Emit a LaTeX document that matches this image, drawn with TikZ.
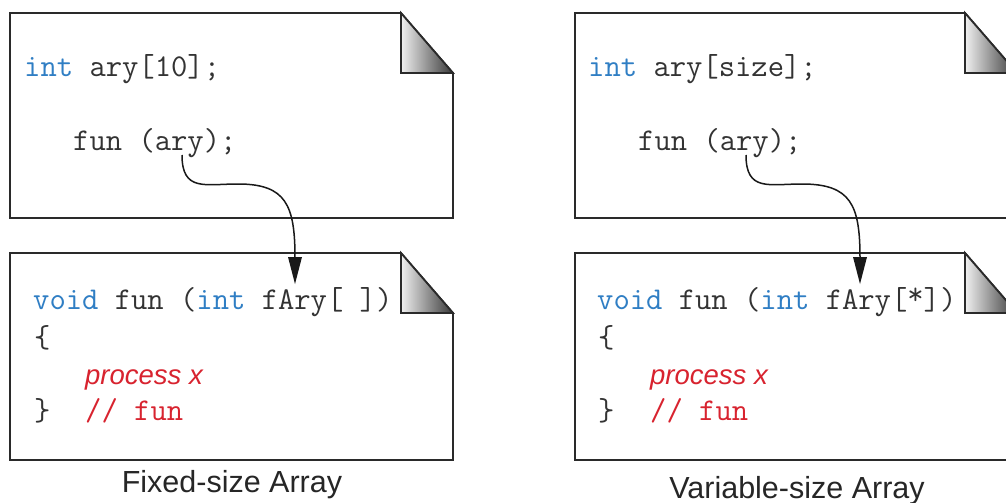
\documentclass[tikz,border=0pt]{standalone}
\usepackage{fontspec}
\setmainfont{Liberation Sans}
\definecolor{kwblue}{HTML}{2F7EC4}
\definecolor{cmred}{HTML}{D8232F}
\definecolor{codegray}{HTML}{333333}
\definecolor{linegray}{HTML}{2A2A2A}
\tikzset{
  page/.style={draw=linegray, line width=1.8pt, fill=white},
  foldtri/.style={draw=linegray, line width=1.8pt, left color=gray!12, right color=black!78, shading=axis},
  code/.style={anchor=base west, inner sep=0pt, font=\ttfamily\fontsize{31.7}{31.7}\selectfont, text=codegray},
  proc/.style={anchor=base west, inner sep=0pt, font=\fontsize{27.5}{27.5}\selectfont\itshape, text=cmred},
  caption/.style={anchor=base, inner sep=0pt, font=\fontsize{30.5}{30.5}\selectfont, text=black!85},
  link/.style={draw=black!90, line width=1.5pt},
  tip/.style={fill=black!90, draw=none}
}
\begin{document}
\begin{tikzpicture}[x=1pt,y=-1pt]
\useasboundingbox (0,0) rectangle (1006,503);
\clip (0,0) rectangle (1006,503);
% ---------- left top page
\draw[page] (10,13) -- (401,13) -- (453,73) -- (453,218) -- (10,218) -- cycle;
\draw[foldtri] (401,13) -- (401,73) -- (453,73) -- cycle;
% ---------- left bottom page
\draw[page] (10,253) -- (401,253) -- (453,313) -- (453,460) -- (10,460) -- cycle;
\draw[foldtri] (401,253) -- (401,313) -- (453,313) -- cycle;
% ---------- right top page
\draw[page] (575,13) -- (965,13) -- (1017,73) -- (1017,218) -- (575,218) -- cycle;
\draw[foldtri] (965,13) -- (965,73) -- (1017,73) -- cycle;
% ---------- right bottom page
\draw[page] (575,253) -- (965,253) -- (1017,313) -- (1017,460) -- (575,460) -- cycle;
\draw[foldtri] (965,253) -- (965,313) -- (1017,313) -- cycle;

% ---------- left texts
\node[code] (l1) at (24,77) {\textcolor{kwblue}{int} ary[10];};
\node[code] (l2) at (73,150) {fun (ary);};
\node[code] (l3) at (33,309) {\textcolor{kwblue}{void} fun (\textcolor{kwblue}{int} fAry[ ])};
\node[code] (l4) at (34,347) {\{};
\node[proc] (l5) at (85,384) {process x};
\node[code] (l6) at (34,420) {\}};
\node[code,text=cmred] (l7) at (85,420) {// fun};
\node[caption] (lcap) at (232,492) {Fixed-size Array};

% ---------- right texts
\node[code] (r1) at (588,77) {\textcolor{kwblue}{int} ary[size];};
\node[code] (r2) at (638,150) {fun (ary);};
\node[code] (r3) at (597,309) {\textcolor{kwblue}{void} fun (\textcolor{kwblue}{int} fAry[\raisebox{0.3ex}{*}])};
\node[code] (r4) at (598,347) {\{};
\node[proc] (r5) at (650,384) {process x};
\node[code] (r6) at (598,420) {\}};
\node[code,text=cmred] (r7) at (650,420) {// fun};
\node[caption] (rcap) at (797,498) {Variable-size Array};

% ---------- connectors
\coordinate (la) at (182,155);
\coordinate (lb) at (295,258);
\coordinate (lt) at (295,284);
\draw[link] (la) .. controls (182,192) and (205,184) .. (238,184)
             .. controls (286,184) and (295,205) .. (lb);
\fill[tip] (lt) -- (288,257) -- (302,257) -- cycle;

\coordinate (ra) at (746,155);
\coordinate (rb) at (860,258);
\coordinate (rt) at (860,284);
\draw[link] (ra) .. controls (746,192) and (769,184) .. (802,184)
             .. controls (851,184) and (860,205) .. (rb);
\fill[tip] (rt) -- (853,257) -- (867,257) -- cycle;
\end{tikzpicture}
\end{document}
